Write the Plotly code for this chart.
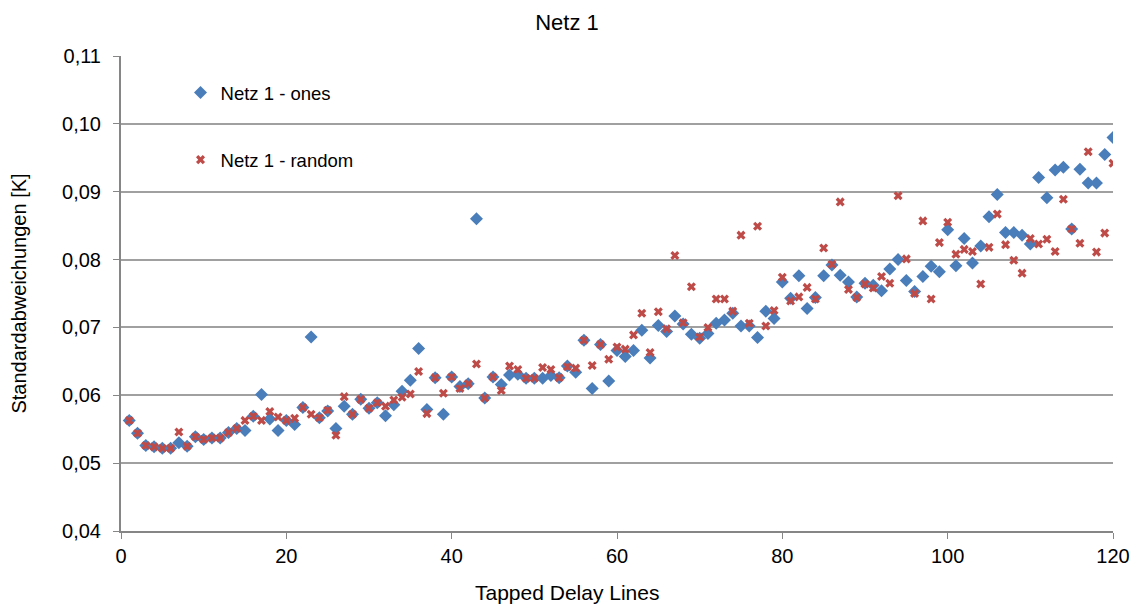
import plotly.graph_objects as go

taps = list(range(1, 121))

ones = [
    0.0563, 0.0544, 0.0526, 0.0524, 0.0522, 0.0522, 0.0530, 0.0525, 0.0539, 0.0535,
    0.0537, 0.0537, 0.0545, 0.0551, 0.0548, 0.0569, 0.0601, 0.0565, 0.0548, 0.0563,
    0.0557, 0.0582, 0.0686, 0.0567, 0.0577, 0.0551, 0.0584, 0.0572, 0.0594, 0.0581,
    0.0589, 0.0570, 0.0586, 0.0606, 0.0622, 0.0669, 0.0579, 0.0626, 0.0572, 0.0627,
    0.0613, 0.0617, 0.0860, 0.0596, 0.0627, 0.0616, 0.0630, 0.0631, 0.0625, 0.0625,
    0.0625, 0.0629, 0.0626, 0.0643, 0.0634, 0.0681, 0.0610, 0.0675, 0.0621, 0.0666,
    0.0657, 0.0666, 0.0696, 0.0655, 0.0703, 0.0694, 0.0717, 0.0705, 0.0690, 0.0684,
    0.0691, 0.0706, 0.0711, 0.0721, 0.0702, 0.0702, 0.0685, 0.0724, 0.0713, 0.0767,
    0.0743, 0.0776, 0.0728, 0.0744, 0.0776, 0.0792, 0.0777, 0.0767, 0.0745, 0.0765,
    0.0762, 0.0754, 0.0786, 0.0800, 0.0769, 0.0753, 0.0775, 0.0790, 0.0782, 0.0844,
    0.0791, 0.0831, 0.0795, 0.0820, 0.0863, 0.0896, 0.0840, 0.0840, 0.0836, 0.0823,
    0.0921, 0.0891, 0.0932, 0.0936, 0.0845, 0.0933, 0.0913, 0.0913, 0.0955, 0.0980,
]

random_ = [
    0.0563, 0.0544, 0.0526, 0.0524, 0.0522, 0.0522, 0.0546, 0.0525, 0.0539, 0.0535,
    0.0537, 0.0537, 0.0545, 0.0551, 0.0563, 0.0569, 0.0563, 0.0576, 0.0568, 0.0563,
    0.0566, 0.0582, 0.0572, 0.0567, 0.0578, 0.0541, 0.0598, 0.0572, 0.0594, 0.0581,
    0.0589, 0.0584, 0.0593, 0.0597, 0.0602, 0.0635, 0.0573, 0.0626, 0.0603, 0.0627,
    0.0610, 0.0617, 0.0646, 0.0596, 0.0627, 0.0607, 0.0643, 0.0638, 0.0625, 0.0625,
    0.0641, 0.0638, 0.0626, 0.0642, 0.0640, 0.0681, 0.0644, 0.0675, 0.0653, 0.0671,
    0.0668, 0.0689, 0.0721, 0.0663, 0.0723, 0.0698, 0.0806, 0.0707, 0.0760, 0.0686,
    0.0700, 0.0742, 0.0742, 0.0724, 0.0836, 0.0706, 0.0849, 0.0702, 0.0725, 0.0774,
    0.0739, 0.0745, 0.0759, 0.0742, 0.0817, 0.0793, 0.0885, 0.0756, 0.0744, 0.0764,
    0.0758, 0.0775, 0.0765, 0.0894, 0.0801, 0.0750, 0.0857, 0.0742, 0.0825, 0.0855,
    0.0808, 0.0815, 0.0812, 0.0764, 0.0818, 0.0867, 0.0822, 0.0799, 0.0780, 0.0831,
    0.0823, 0.0830, 0.0812, 0.0889, 0.0845, 0.0824, 0.0959, 0.0811, 0.0839, 0.0942,
]

series_names = ["Netz 1 - ones", "Netz 1 - random"]
y_ticks = [0.04, 0.05, 0.06, 0.07, 0.08, 0.09, 0.10, 0.11]
x_ticks = [0, 20, 40, 60, 80, 100, 120]

BLUE = "#4A7EBB"
RED = "#BE4B48"
FONT = "Liberation Sans, Arial, sans-serif"

fig = go.Figure()
fig.add_trace(go.Scatter(
    x=taps, y=ones, mode="markers", name=series_names[0], legendgroup="a",
    marker=dict(symbol="diamond", size=10, color=BLUE, line=dict(width=0)),
))
fig.add_trace(go.Scatter(
    x=taps, y=random_, mode="markers", name=series_names[1], legendgroup="b",
    marker=dict(symbol="x", size=8, color=RED, line=dict(width=0)),
))

fig.update_layout(
    width=1134, height=604,
    margin=dict(l=121, r=21, t=56, b=73),
    paper_bgcolor="white", plot_bgcolor="white",
    separators=",.",
    font=dict(family=FONT, size=20, color="#000000"),
    title=dict(text="Netz 1", x=0.5, xref="container", y=0.963, yanchor="middle",
               font=dict(family=FONT, size=22, color="#000000")),
    showlegend=True,
    legend=dict(x=0.06, y=0.962, xanchor="left", yanchor="top",
                bgcolor="rgba(0,0,0,0)", tracegroupgap=40,
                font=dict(family=FONT, size=18.5, color="#000000"),
                itemwidth=30),
    xaxis=dict(range=[0, 120], tickvals=x_ticks, showgrid=False, zeroline=False,
               automargin=False,
               showline=True, linecolor="#868686", linewidth=2,
               ticks="outside", ticklen=6, tickcolor="#868686", tickwidth=1,
               tickfont=dict(family=FONT, size=20, color="#000000")),
    yaxis=dict(range=[0.04, 0.11], tickvals=y_ticks, tickformat=".2f",
               automargin=False,
               showgrid=True, gridcolor="#A0A0A0", gridwidth=2, zeroline=False,
               showline=True, linecolor="#868686", linewidth=2,
               ticks="outside", ticklen=6, tickcolor="#868686", tickwidth=1,
               ticklabelstandoff=8,
               tickfont=dict(family=FONT, size=20, color="#000000"),
               title=dict(text="Standardabweichungen [K]", standoff=30,
                          font=dict(family=FONT, size=20, color="#000000"))),
    annotations=[dict(text="Tapped Delay Lines", xref="paper", yref="paper",
                      x=(567 - 121) / 992, y=0, yshift=-61, xanchor="center",
                      yanchor="middle", showarrow=False,
                      font=dict(family=FONT, size=21, color="#000000"))],
)

fig.write_html("out.html")
